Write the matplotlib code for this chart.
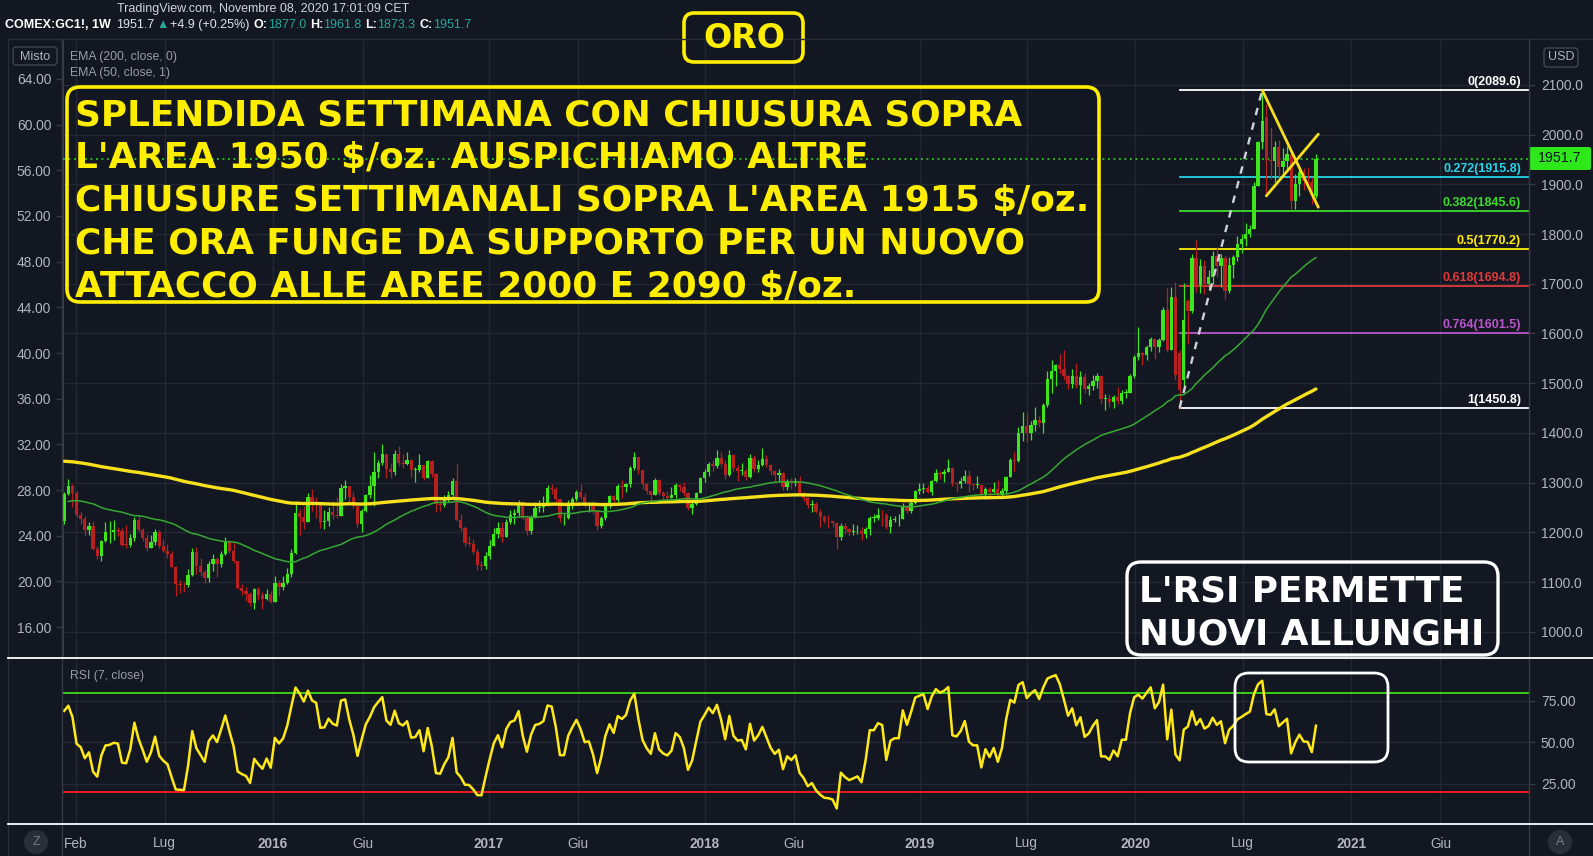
import datetime as dt
import numpy as np
import matplotlib
matplotlib.use("Agg")
import matplotlib.pyplot as plt
import matplotlib.dates as mdates
import matplotlib.transforms as mtrans
from matplotlib.patches import FancyBboxPatch, Circle
from matplotlib.lines import Line2D

# ---------------- data (weekly COMEX:GC1!) ----------------
first_week = "2015-01-12"
first_open = 1222.0

closes_2015 = [1277,1294,1279,1234,1227,1204,1213,1167,1152,1183,1200,1201,1204,1203,1175,1174,1188,1225,1205,1189,
               1169,1180,1201,1172,1163,1157,1131,1095,1094,1093,1114,1160,1133,1121,1108,1137,1146,1137,1156,1182,
               1163,1142,1088,1081,1076,1057,1085,1074,1065,1076,1060]
highs_2015 = [1282,1307,1298,1284,1243,1232,1220,1223,1173,1185,1220,1223,1224,1210,1208,1215,1196,1230,1232,1208,
              1196,1194,1206,1205,1187,1176,1163,1132,1105,1100,1126,1168,1170,1149,1124,1142,1157,1150,1163,1191,
              1178,1180,1141,1095,1090,1080,1088,1090,1080,1085,1082]
lows_2015 = [1216,1276,1250,1231,1216,1192,1194,1164,1147,1142,1180,1178,1185,1192,1172,1168,1170,1182,1201,1183,
             1162,1170,1175,1169,1160,1148,1130,1072,1077,1080,1090,1112,1116,1112,1098,1101,1122,1111,1130,1155,
             1159,1138,1085,1074,1062,1052,1046,1063,1046,1063,1058]

closes_2016 = [1098,1090,1097,1116,1158,1239,1231,1221,1271,1258,1255,1221,1222,1240,1234,1232,1290,1294,1272,1252,
               1216,1243,1275,1294,1322,1340,1358,1328,1322,1357,1340,1337,1345,1325,1326,1335,1310,1343,1317,1257,
               1255,1267,1276,1304,1225,1208,1178,1177,1160,1134,1133,1152]
highs_2016 = [1113,1105,1113,1129,1167,1263,1247,1253,1280,1287,1271,1260,1244,1250,1262,1271,1298,1306,1289,1281,
              1252,1246,1278,1316,1362,1345,1377,1357,1340,1366,1374,1358,1362,1348,1331,1358,1336,1346,1345,1320,
              1265,1275,1284,1310,1338,1236,1212,1193,1187,1167,1142,1160]
lows_2016 = [1061,1071,1084,1096,1110,1156,1195,1207,1225,1243,1228,1208,1206,1213,1226,1229,1233,1268,1260,1248,
             1210,1200,1240,1269,1252,1310,1336,1310,1310,1315,1334,1330,1336,1312,1302,1322,1305,1309,1312,1241,
             1242,1251,1260,1273,1222,1203,1172,1172,1157,1124,1124,1127]

closes_2017 = [1173,1196,1209,1191,1221,1235,1238,1257,1228,1203,1230,1249,1251,1256,1289,1288,1268,1228,1228,1254,
               1268,1281,1271,1256,1257,1242,1212,1228,1255,1274,1264,1294,1291,1298,1330,1351,1325,1297,1284,1275,
               1305,1280,1273,1270,1275,1296,1292,1280,1248,1257,1279,1309]
highs_2017 = [1185,1208,1220,1220,1226,1245,1246,1264,1263,1234,1234,1261,1264,1274,1296,1297,1291,1267,1237,1265,
              1272,1286,1298,1280,1261,1262,1244,1233,1258,1276,1276,1298,1306,1300,1333,1362,1341,1324,1299,1284,
              1310,1307,1284,1284,1292,1299,1298,1301,1282,1260,1281,1312]
lows_2017 = [1146,1174,1189,1180,1191,1216,1217,1232,1225,1195,1197,1228,1240,1240,1252,1277,1260,1221,1214,1227,
             1247,1262,1268,1250,1241,1236,1205,1208,1225,1248,1255,1261,1270,1282,1291,1325,1317,1288,1278,1263,
             1277,1275,1264,1264,1269,1270,1283,1274,1244,1237,1255,1280]

closes_2018 = [1322,1338,1333,1350,1337,1316,1356,1330,1323,1324,1312,1349,1327,1335,1348,1336,1323,1315,1319,1292,
               1304,1299,1303,1279,1270,1254,1256,1241,1231,1223,1222,1219,1191,1213,1206,1201,1202,1203,1196,1207,
               1229,1229,1235,1234,1210,1224,1226,1226,1252,1243,1258,1283,1287]
highs_2018 = [1327,1341,1345,1366,1361,1346,1365,1357,1335,1340,1327,1357,1356,1346,1369,1355,1338,1326,1328,1322,
              1308,1309,1310,1314,1282,1272,1265,1261,1246,1235,1235,1225,1221,1218,1219,1209,1216,1214,1210,1211,
              1233,1237,1248,1245,1238,1232,1232,1237,1258,1255,1267,1285,1300]
lows_2018 = [1302,1313,1324,1329,1331,1308,1314,1323,1303,1315,1306,1309,1322,1322,1333,1332,1316,1302,1304,1285,
             1286,1288,1293,1277,1263,1249,1241,1239,1211,1219,1209,1210,1167,1184,1196,1193,1195,1196,1185,1189,
             1194,1221,1224,1212,1206,1198,1220,1213,1229,1238,1238,1256,1278]

closes_2019 = [1290,1282,1303,1320,1318,1322,1330,1299,1298,1303,1313,1298,1295,1295,1276,1288,1281,1287,1275,1284,
               1311,1346,1344,1400,1414,1400,1415,1426,1419,1457,1509,1524,1537,1529,1515,1499,1515,1497,1512,1489,
               1494,1505,1514,1468,1468,1463,1472,1465,1481,1481,1515,1552]
highs_2019 = [1300,1296,1305,1327,1323,1327,1347,1332,1301,1312,1326,1325,1300,1314,1296,1291,1292,1301,1305,1290,
              1314,1349,1362,1411,1443,1442,1423,1453,1433,1460,1524,1546,1539,1559,1566,1517,1528,1540,1524,1520,
              1500,1517,1521,1515,1479,1479,1477,1492,1487,1488,1519,1556]
lows_2019 = [1279,1279,1276,1302,1307,1302,1321,1294,1281,1290,1300,1281,1286,1290,1271,1266,1267,1279,1272,1273,
             1278,1312,1323,1341,1383,1382,1386,1404,1412,1400,1453,1480,1495,1520,1507,1488,1491,1491,1459,1481,
             1477,1487,1490,1458,1446,1453,1450,1459,1458,1471,1480,1510]

closes_2020 = [1560,1557,1572,1589,1573,1586,1648,1566,1673,1517,1486,1627,1646,1752,1698,1736,1700,1713,1756,1735,
               1751,1685,1737,1753,1780,1790,1801,1810,1897,1985,2028,1949,1947,1975,1934,1948,1962,1866,1900,1925,
               1906,1905,1879,1951.7]
highs_2020 = [1613,1562,1577,1592,1588,1591,1653,1691,1694,1704,1567,1702,1670,1760,1788,1749,1747,1728,1765,1775,
              1760,1758,1754,1758,1797,1801,1823,1818,1904,1987,2089.6,2062,2015,1987,1990,1974,1978,1963,1920,1933,
              1933,1935,1914,1961.8]
lows_2020 = [1547,1536,1546,1564,1549,1563,1585,1562,1575,1506,1450.8,1483,1579,1641,1683,1682,1679,1688,1700,1713,
             1694,1670,1681,1712,1745,1762,1776,1795,1810,1898,1972,1874,1911,1904,1915,1916,1931,1851,1851,1876,
             1889,1890,1860,1873.3]

# weekly opens differ from the previous close only on these weeks
open_gaps = {"2020-03-16": 1560.0, "2020-03-23": 1506.0, "2020-03-30": 1665.0,
             "2020-08-10": 2035.0, "2020-11-02": 1877.0}

# closes of the weeks before the first visible bar (RSI warm-up)
warmup_closes = [1268,1231,1216,1218,1192,1222,1239,1231,1171,1169,1185,1201,1175,1205,1222,1196,1195,1186,1216]
ema200_seed = 1343.0   # EMA(200) value at the first bar
ema50_seed = 1262.0    # EMA(50) value at the first bar

fib_labels = ["0", "0.272", "0.382", "0.5", "0.618", "0.764", "1"]
fib_prices = [2089.6, 1915.8, 1845.6, 1770.2, 1694.8, 1601.5, 1450.8]
fib_colors = ["#ffffff", "#26d4e8", "#3ddc2a", "#ffee00", "#e0393b", "#bb55cc", "#ffffff"]
fib_start = "2020-03-16"

dashed_trend = [("2020-03-16", 1450.8), ("2020-08-03", 2089.6)]
wedge_line_a = [("2020-08-03", 2089.6), ("2020-11-06", 1854.0)]
wedge_line_b = [("2020-08-10", 1877.0), ("2020-11-06", 2001.0)]

last_price = 1951.7
usd_ticks = list(range(1000, 2101, 100))
left_ticks = list(range(16, 65, 4))
rsi_ticks = [25, 50, 75]
rsi_upper, rsi_lower = 80, 20

tick_dates = ["2015-02-01", "2015-07-01", "2016-01-01", "2016-06-01", "2017-01-01", "2017-06-01",
              "2018-01-01", "2018-06-01", "2019-01-01", "2019-07-01", "2020-01-01", "2020-07-01",
              "2021-01-01", "2021-06-01"]
tick_labels = ["Feb", "Lug", "2016", "Giu", "2017", "Giu", "2018", "Giu", "2019", "Lug", "2020", "Lug", "2021", "Giu"]

note_lines = ["SPLENDIDA SETTIMANA CON CHIUSURA SOPRA",
              "L'AREA 1950 $/oz. AUSPICHIAMO ALTRE",
              "CHIUSURE SETTIMANALI SOPRA L'AREA 1915 $/oz.",
              "CHE ORA FUNGE DA SUPPORTO PER UN NUOVO",
              "ATTACCO ALLE AREE 2000 E 2090 $/oz."]
rsi_note_lines = ["L'RSI PERMETTE", "NUOVI ALLUNGHI"]

# ---------------- derived series ----------------
def d(s):
    return dt.datetime.strptime(s, "%Y-%m-%d")

closes = np.array(closes_2015 + closes_2016 + closes_2017 + closes_2018 + closes_2019 + closes_2020, float)
highs = np.array(highs_2015 + highs_2016 + highs_2017 + highs_2018 + highs_2019 + highs_2020, float)
lows = np.array(lows_2015 + lows_2016 + lows_2017 + lows_2018 + lows_2019 + lows_2020, float)
n = len(closes)
dates = [d(first_week) + dt.timedelta(weeks=i) for i in range(n)]
xd = mdates.date2num(dates)
opens = np.empty(n)
opens[0] = first_open
opens[1:] = closes[:-1]
for k, v in open_gaps.items():
    opens[dates.index(d(k))] = v
highs = np.maximum(highs, np.maximum(opens, closes))
lows = np.minimum(lows, np.minimum(opens, closes))


def ema(vals, length, seed):
    a = 2.0 / (length + 1)
    out = np.empty(len(vals))
    out[0] = seed
    for i in range(1, len(vals)):
        out[i] = out[i - 1] + a * (vals[i] - out[i - 1])
    return out


def rsi(vals, length):
    dv = np.diff(vals)
    g = np.clip(dv, 0, None)
    l = np.clip(-dv, 0, None)
    out = np.full(len(vals), np.nan)
    ag, al = g[:length].mean(), l[:length].mean()
    out[length] = 100 if al == 0 else 100 - 100 / (1 + ag / al)
    for i in range(length, len(dv)):
        ag = (ag * (length - 1) + g[i]) / length
        al = (al * (length - 1) + l[i]) / length
        out[i + 1] = 100 if al == 0 else 100 - 100 / (1 + ag / al)
    return out


ema200 = ema(closes, 200, ema200_seed)
ema50 = ema(closes, 50, ema50_seed)
rsi7 = rsi(np.concatenate([np.array(warmup_closes, float), closes]), 7)[len(warmup_closes):]

# ---------------- style / layout ----------------
W, H = 1593, 856
BG = "#131722"
GRID = "#232733"
TXT = "#b2b5be"
DIM = "#9a9da6"
EDGE = "#363a45"
UP = "#3de61c"
DN = "#b81f1f"
SANS = ["Liberation Sans", "DejaVu Sans"]
BOLD = ["DejaVu Sans"]

fig = plt.figure(figsize=(W / 100, H / 100), dpi=100, facecolor=BG)
PX = mtrans.Affine2D().scale(1.0 / W, -1.0 / H).translate(0, 1) + fig.transFigure

L, R = 63, 1529
T1, B1 = 40, 658
T2, B2 = 658, 824
ax = fig.add_axes([L / W, 1 - B1 / H, (R - L) / W, (B1 - T1) / H])
axr = fig.add_axes([L / W, 1 - B2 / H, (R - L) / W, (B2 - T2) / H], sharex=ax)
for a in (ax, axr):
    a.set_facecolor(BG)
    for s in a.spines.values():
        s.set_visible(False)

xmin = mdates.date2num(d("2015-01-10"))
xmax = mdates.date2num(d("2021-10-29"))
ax.set_xlim(xmin, xmax)
ax.set_ylim(947.1, 2190.5)
axr.set_ylim(0.9, 100.9)

tick_x = mdates.date2num([d(s) for s in tick_dates])
axr.set_xticks(tick_x)
axr.set_xticklabels(tick_labels)
for lab, txt in zip(axr.get_xticklabels(), tick_labels):
    lab.set_fontfamily(SANS)
    if txt.isdigit():
        lab.set_fontweight("bold")
axr.tick_params(axis="x", length=0, pad=9, labelsize=9.8, colors=TXT)
ax.tick_params(axis="x", length=0, labelbottom=False)
for a in (ax, axr):
    a.grid(True, axis="x", color=GRID, lw=1.0, zorder=0)
    a.grid(True, axis="y", color=GRID, lw=1.0, zorder=0)
    a.set_axisbelow(True)

# right price axis
ax.yaxis.tick_right()
ax.set_yticks(usd_ticks)
ax.set_yticklabels([f"{v:.1f}" for v in usd_ticks], fontfamily=SANS)
ax.tick_params(axis="y", length=4, width=1, color=EDGE, pad=4.5, labelsize=9.9, labelcolor=TXT)
axr.yaxis.tick_right()
axr.set_yticks(rsi_ticks)
axr.set_yticklabels([f"{v:.2f}" for v in rsi_ticks], fontfamily=SANS)
axr.tick_params(axis="y", length=4, width=1, color=EDGE, pad=4.5, labelsize=9.9, labelcolor=TXT)

# left (mixed) scale, linear mapping
def usd2left(u):
    return 64 - (2112.07 - np.asarray(u, float)) / 22.972


def left2usd(v):
    return 2112.07 - (64 - np.asarray(v, float)) * 22.972


sec = ax.secondary_yaxis("left", functions=(usd2left, left2usd))
sec.set_yticks(left_ticks)
sec.set_yticklabels([f"{v:.2f}" for v in left_ticks], fontfamily=SANS)
sec.tick_params(axis="y", length=5, width=1, color=EDGE, pad=3.5, labelsize=9.9, labelcolor=TXT)
sec.spines["left"].set_color(EDGE)

# ---------------- candles & indicators ----------------
up = closes >= opens
cols = np.where(up, UP, DN)
ax.vlines(xd, lows, highs, colors=cols, lw=0.9, zorder=3)
ax.bar(xd, np.maximum(np.abs(closes - opens), 1.6), bottom=np.minimum(opens, closes),
       width=5.6, color=cols, edgecolor="none", linewidth=0, zorder=3)
ax.plot(xd, ema200, color="#f6e11c", lw=2.4, zorder=4, solid_capstyle="round")
ax.plot(xd[1:], ema50[:-1], color="#36a832", lw=1.1, zorder=4)

# fibonacci retracement
fx0 = mdates.date2num(d(fib_start))
lab_tr = mtrans.offset_copy(mtrans.blended_transform_factory(ax.transAxes, ax.transData),
                            fig=fig, x=0, y=2, units="dots")
for lab, p, c in zip(fib_labels, fib_prices, fib_colors):
    ax.plot([fx0, xmax], [p, p], color=c, lw=1.3, zorder=2)
    ax.text((1521 - L) / (R - L), p, f"{lab}({p:.1f})", transform=lab_tr, ha="right", va="bottom",
            color=c, fontsize=9, fontfamily=SANS, fontweight="bold", zorder=6)

# drawings
def seg(pts):
    return [mdates.date2num(d(p[0])) for p in pts], [p[1] for p in pts]


sx, sy = seg(dashed_trend)
ax.plot(sx, sy, color="#cfd2d8", lw=1.7, dashes=(3.2, 3.2), zorder=5)
for line in (wedge_line_a, wedge_line_b):
    sx, sy = seg(line)
    ax.plot(sx, sy, color="#f7df1e", lw=2.0, zorder=5, solid_capstyle="round")

ax.axhline(last_price, color="#2ee81c", lw=1.1, ls=(0, (1.2, 2.4)), zorder=2)

# RSI pane
axr.axhline(rsi_upper, color="#3ddc1a", lw=1.3, zorder=2)
axr.axhline(rsi_lower, color="#ff1c1c", lw=1.3, zorder=2)
axr.plot(xd, rsi7, color="#ffe81a", lw=1.8, zorder=3)

# ---------------- frame, separators ----------------
def fline(x0, y0, x1, y1, color, lw):
    fig.add_artist(Line2D([x0, x1], [y0, y1], transform=PX, color=color, lw=lw))


fline(8, 39, W, 39, "#2a2e39", 1.0)
fline(8, 39, 8, H, "#2a2e39", 1.0)
fline(R, 39, R, H, EDGE, 1.0)
fline(62, 39, 62, H, EDGE, 1.0)
fline(8, 658, W, 658, "#ffffff", 1.3)
fline(8, 824, W, 824, "#ffffff", 1.3)


def fbox(x0, y0, x1, y1, ec, lw, r, fc="none"):
    fig.add_artist(FancyBboxPatch((x0, y0), x1 - x0, y1 - y0, boxstyle=f"round,pad=0,rounding_size={r}",
                                  transform=PX, ec=ec, fc=fc, lw=lw))


def ftext(x, y, s, **kw):
    return fig.text(x, y, s, transform=PX, **kw)


renderer = fig.canvas.get_renderer()


def fit_width(t, target):
    w = t.get_window_extent(renderer).width
    t.set_fontsize(t.get_fontsize() * target / w)
    return t.get_fontsize()


# header
ftext(117, 9, "TradingView.com, Novembre 08, 2020 17:01:09 CET", color="#d1d4dc", fontsize=9,
      fontfamily=SANS, va="center")
TEAL = "#26a69a"
pieces = [("COMEX:GC1!, 1W", "#ffffff", "bold", 5), ("1951.7", "#e0e3eb", "normal", 2),
          ("\u25B2", TEAL, "normal", 2), ("+4.9 (+0.25%)", "#e0e3eb", "normal", 4),
          ("O:", "#ffffff", "bold", 0), ("1877.0", TEAL, "normal", 4),
          ("H:", "#ffffff", "bold", 0), ("1961.8", TEAL, "normal", 4),
          ("L:", "#ffffff", "bold", 0), ("1873.3", TEAL, "normal", 4),
          ("C:", "#ffffff", "bold", 0), ("1951.7", TEAL, "normal", 0)]
xcur = 5
for s, c, wgt, gap in pieces:
    t = ftext(xcur, 25, s, color=c, fontsize=9, fontweight=wgt, fontfamily=SANS + ["DejaVu Sans"], va="center")
    xcur += t.get_window_extent(renderer).width + gap

# ORO badge
fbox(684, 13, 803, 62, "#ffee00", 2.6, 10)
t = ftext(744, 38, "ORO", color="#ffee00", fontsize=22, fontweight="bold", fontfamily=BOLD, ha="center", va="center")
fit_width(t, 82)

# top-left legend
fbox(13, 47, 57, 65, "#434651", 1.0, 3)
ftext(35, 56.5, "Misto", color=TXT, fontsize=9, fontfamily=SANS, ha="center", va="center")
ftext(70, 57, "EMA (200, close, 0)", color=DIM, fontsize=8.8, fontfamily=SANS, va="center")
ftext(70, 73, "EMA (50, close, 1)", color=DIM, fontsize=8.8, fontfamily=SANS, va="center")
ftext(70, 676, "RSI (7, close)", color=DIM, fontsize=8.8, fontfamily=SANS, va="center")

# USD badge & last price tag
fbox(1544, 48, 1578, 67, "#434651", 1.0, 3)
ftext(1561, 57.5, "USD", color=TXT, fontsize=9, fontfamily=SANS, ha="center", va="center")
fbox(1529, 147, 1591, 170, "none", 0, 2, fc="#2ee81c")
ftext(1560, 158.5, f"{last_price:.1f}", color="#131722", fontsize=10.2, fontfamily=SANS, ha="center", va="center")

# main annotation
fbox(67, 87, 1099, 302, "#ffee00", 2.6, 13)
texts = []
for i, s in enumerate(note_lines):
    texts.append(ftext(75, 125 + 43 * i, s, color="#ffee00", fontsize=24, fontweight="bold",
                       fontfamily=BOLD, va="baseline"))
fs = fit_width(texts[2], 1017)
for t in texts:
    t.set_fontsize(fs)

# RSI annotation
fbox(1127, 562, 1498, 655, "#ffffff", 2.4, 14)
rt = [ftext(1139, 602 + 43 * i, s, color="#ffffff", fontsize=24, fontweight="bold", fontfamily=BOLD,
            va="baseline") for i, s in enumerate(rsi_note_lines)]
fs2 = fit_width(rt[1], 348)
rt[0].set_fontsize(fs2)
fbox(1235, 673, 1388, 762, "#ffffff", 2.0, 14)

# bottom buttons
for cx, s in ((36, "Z"), (1560, "A")):
    fig.add_artist(Circle((cx, 842), 12, transform=PX, fc="#2a2e39", ec="none"))
    ftext(cx, 842, s, color="#787b86", fontsize=9, fontfamily=SANS, ha="center", va="center")

fig.savefig("out.png", dpi=100, facecolor=BG)
